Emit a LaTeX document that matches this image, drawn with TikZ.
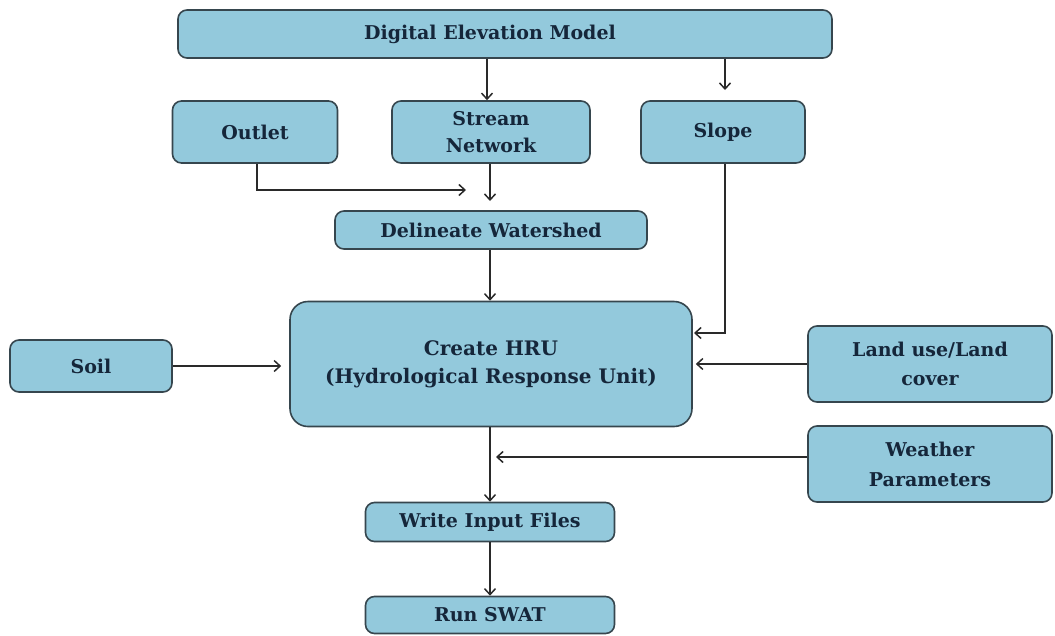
\documentclass[tikz,border=0pt]{standalone}
\usepackage{fontspec}
\setmainfont{DejaVu Serif}
\usetikzlibrary{arrows.meta,calc}
\definecolor{boxfill}{HTML}{93C9DC}
\definecolor{boxline}{HTML}{36464E}
\definecolor{txt}{HTML}{15263A}
\definecolor{arrcol}{HTML}{2A2A2A}
\tikzset{
  box/.style={draw=boxline, line width=1.6pt, fill=boxfill, rounded corners=9pt,
    text=txt, font=\bfseries\fontsize{19}{27}\selectfont, align=center, inner sep=0pt},
  arr/.style={draw=arrcol, line width=1.5pt, -{Straight Barb[length=6pt,width=11pt,line width=1.5pt]}},
  ln/.style={draw=arrcol, line width=1.5pt}
}
\begin{document}
\begin{tikzpicture}[x=1pt,y=-1pt]
\useasboundingbox (0,0) rectangle (1055,635);
\node[box, minimum width=654pt, minimum height=48pt] (dem) at (505,34) {Digital Elevation Model\hspace*{30pt}};
\node[box, minimum width=165pt, minimum height=62pt] (outlet) at (255,132) {Outlet};
\node[box, minimum width=198pt, minimum height=62pt] (stream) at (491,132) {Stream\\Network};
\node[box, minimum width=164pt, minimum height=62pt] (slope) at (723,132) {Slope};
\node[box, minimum width=312pt, minimum height=38pt] (delin) at (491,230) {Delineate Watershed};
\node[box, minimum width=402pt, minimum height=125pt, rounded corners=18pt, font=\bfseries\fontsize{20}{28}\selectfont] (hru) at (491,364) {Create HRU\\(Hydrological Response Unit)};
\node[box, minimum width=162pt, minimum height=52pt] (soil) at (91,366) {Soil};
\node[box, minimum width=244pt, minimum height=76pt, font=\bfseries\fontsize{19}{29}\selectfont] (land) at (930,364) {Land use/Land\\cover};
\node[box, minimum width=244pt, minimum height=76pt, font=\bfseries\fontsize{19}{30}\selectfont] (weather) at (930,464) {Weather\\Parameters};
\node[box, minimum width=249pt, minimum height=39pt] (write) at (490,522) {Write Input Files};
\node[box, minimum width=249pt, minimum height=37pt] (run) at (490,615) {Run SWAT};

\coordinate (slopetip) at (725,90);
\coordinate (oj) at (466,190);
\coordinate (sj) at (490,201);
\coordinate (se) at (694,333);
\coordinate (wj) at (496,457);

\draw[arr] (dem.south -| 487,0) -- (stream.north -| 487,0);
\draw[arr] (dem.south -| slopetip) -- (slopetip);
\draw[arr] (outlet.south -| 257,0) |- (oj);
\draw[arr] (stream.south -| sj) -- (sj);
\draw[arr] (delin.south -| 490,0) -- (hru.north -| 490,0);
\draw[arr] (slope.south -| 725,0) |- (se);
\draw[arr, shorten >=8pt] (soil.east) -- (soil.east -| hru.west);
\draw[arr, shorten >=3pt] (land.west) -- (land.west -| hru.east);
\draw[arr] (hru.south -| 490,0) -- (write.north -| 490,0);
\draw[arr] (weather.west |- wj) -- (wj);
\draw[arr] (write.south) -- (run.north);
\end{tikzpicture}
\end{document}
